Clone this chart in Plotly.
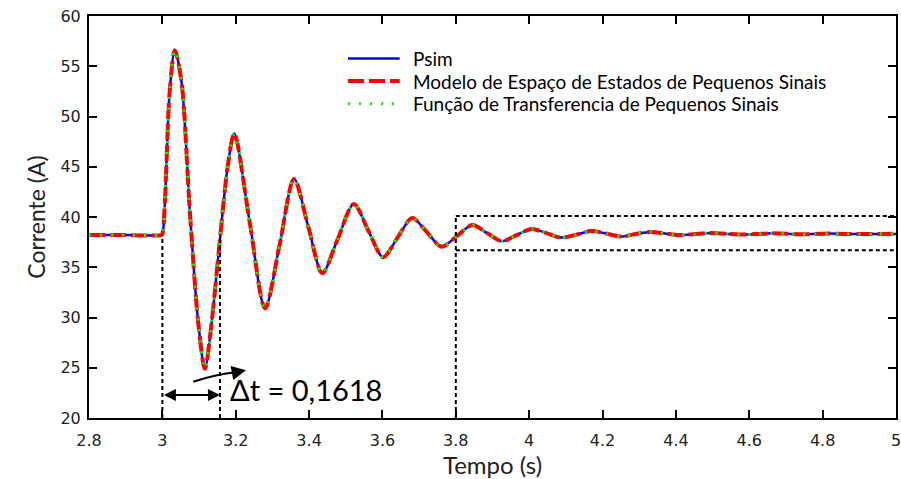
import plotly.graph_objects as go

# ---- data ----
tempo = [2.8, 2.9, 2.996, 3.0, 3.006, 3.02, 3.034, 3.052, 3.075, 3.098, 3.116,
         3.134, 3.157, 3.178, 3.196, 3.238, 3.280, 3.320, 3.359, 3.398, 3.436,
         3.478, 3.522, 3.562, 3.602, 3.642, 3.681, 3.721, 3.761, 3.803, 3.845,
         3.885, 3.925, 3.966, 4.006, 4.047, 4.088, 4.129, 4.170, 4.210, 4.251,
         4.290, 4.330, 4.370, 4.410, 4.452, 4.495, 4.538, 4.580, 4.620, 4.660,
         4.700, 4.740, 4.780, 4.820, 4.860, 4.900, 4.950, 5.0]
corrente = [38.2, 38.2, 38.2, 38.3, 40.8, 52.5, 56.6, 53.5, 40.5, 29.4, 24.9,
            29.4, 37.8, 45.0, 48.3, 39.5, 30.9, 37.3, 43.8, 39.0, 34.4,
            37.8, 41.3, 38.6, 36.0, 38.0, 39.9, 38.5, 37.05, 38.1, 39.2,
            38.4, 37.6, 38.2, 38.8, 38.4, 37.95, 38.25, 38.6, 38.35, 38.05,
            38.3, 38.5, 38.35, 38.2, 38.3, 38.4, 38.32, 38.25, 38.3, 38.38,
            38.33, 38.28, 38.31, 38.35, 38.32, 38.3, 38.32, 38.32]
psim = corrente
modelo_ee = corrente
funcao_tf = corrente

nomes = ["Psim", "Modelo de Espaço de Estados de Pequenos Sinais",
         "Função de Transferencia de Pequenos Sinais"]
cores = ["#0000FF", "#FF0000", "#00FF00"]
larguras = [2.5, 4, 3]
tracos = ["solid", "16px,5px", "2px,9px"]

x_ticks = [2.8, 3, 3.2, 3.4, 3.6, 3.8, 4, 4.2, 4.4, 4.6, 4.8, 5]
x_tick_text = ["2.8", "3", "3.2", "3.4", "3.6", "3.8", "4", "4.2", "4.4", "4.6", "4.8", ""]
ultimo_tick = "5"
y_ticks = [20, 25, 30, 35, 40, 45, 50, 55, 60]

# annotation geometry (data units)
t_inicio, t_fim, t_box = 3.0, 3.157, 3.8
i_base, i_cruz = 38.2, 38.0
box_sup, box_inf = 40.1, 36.7
i_seta = 22.3
delta_txt = "Δt = 0,1618"

# manual legend geometry (paper units)
leg_x0, leg_x1, leg_tx = 0.321, 0.385, 0.400
leg_y = [0.894, 0.838, 0.782]

fig = go.Figure()
for serie, nome, cor, lw, dsh in zip([psim, modelo_ee, funcao_tf], nomes, cores, larguras, tracos):
    fig.add_trace(go.Scatter(x=tempo, y=serie, mode="lines", name=nome, showlegend=False,
                             line=dict(color=cor, width=lw, dash=dsh, shape="spline", smoothing=0.85)))

for nome, cor, lw, dsh, yy in zip(nomes, cores, larguras, tracos, leg_y):
    fig.add_shape(type="line", xref="paper", yref="paper", x0=leg_x0, x1=leg_x1,
                  y0=yy, y1=yy, line=dict(color=cor, width=lw, dash=dsh))
    fig.add_annotation(xref="paper", yref="paper", x=leg_tx, y=yy, text=nome,
                       showarrow=False, xanchor="left", yanchor="middle",
                       borderpad=0, font=dict(family="Lato", size=19, color="black"))

dot = dict(color="black", width=2, dash="4px,3px")
fig.add_shape(type="line", x0=t_inicio, x1=t_inicio, y0=20, y1=i_base, line=dot)
fig.add_shape(type="line", x0=t_fim, x1=t_fim, y0=20, y1=i_cruz, line=dot)
fig.add_shape(type="line", x0=t_box, x1=t_box, y0=20, y1=box_sup, line=dot)
fig.add_shape(type="line", x0=t_box, x1=5, y0=box_sup, y1=box_sup, line=dot)
fig.add_shape(type="line", x0=t_box, x1=5, y0=box_inf, y1=box_inf, line=dot)

# double-headed arrow
fig.add_annotation(x=t_fim, y=i_seta, ax=t_inicio, ay=i_seta, xref="x", yref="y",
                   axref="x", ayref="y", text="", showarrow=True, arrowhead=2,
                   arrowside="end+start", arrowsize=1.2, arrowwidth=2, arrowcolor="black")
# curved arrow
fig.add_shape(type="path", path="M 3.084,23.6 Q 3.15,24.4 3.20,24.55",
              line=dict(color="black", width=2.2))
fig.add_annotation(x=3.228, y=24.75, ax=3.195, ay=24.52, xref="x", yref="y",
                   axref="x", ayref="y", text="", showarrow=True, arrowhead=2,
                   arrowsize=1.3, arrowwidth=2.2, arrowcolor="black")
fig.add_annotation(x=3.178, y=22.8, text=delta_txt, showarrow=False, xanchor="left",
                   yanchor="middle", font=dict(family="Lato", size=29, color="black"))

# last x tick label (partly beyond the plot edge, as in the reference)
fig.add_annotation(x=5, y=0, xref="x", yref="paper", yshift=-22, text=ultimo_tick,
                   showarrow=False, xanchor="center", yanchor="middle",
                   font=dict(family="DejaVu Sans", size=16, color="#222222"))

axis_common = dict(showline=True, linecolor="black", linewidth=2, mirror="ticks",
                   ticks="inside", ticklen=8, tickwidth=2, tickcolor="black",
                   showgrid=False, zeroline=False, automargin=False,
                   tickfont=dict(family="DejaVu Sans", size=16, color="#222222"))
fig.update_xaxes(range=[2.8, 5], tickvals=x_ticks, ticktext=x_tick_text, ticklabelstandoff=7,
                 title=dict(text="Tempo (s)", font=dict(family="Lato", size=24, color="#222222"),
                            standoff=6), **axis_common)
fig.update_yaxes(range=[20, 60], tickvals=y_ticks, ticklabelstandoff=3,
                 title=dict(text="Corrente (A)", font=dict(family="Lato", size=23, color="#222222"),
                            standoff=8), **axis_common)

fig.update_layout(
    width=901, height=479,
    margin=dict(l=89, r=5, t=16, b=61),
    plot_bgcolor="white", paper_bgcolor="white",
    showlegend=False,
)
fig.write_html("out.html")
